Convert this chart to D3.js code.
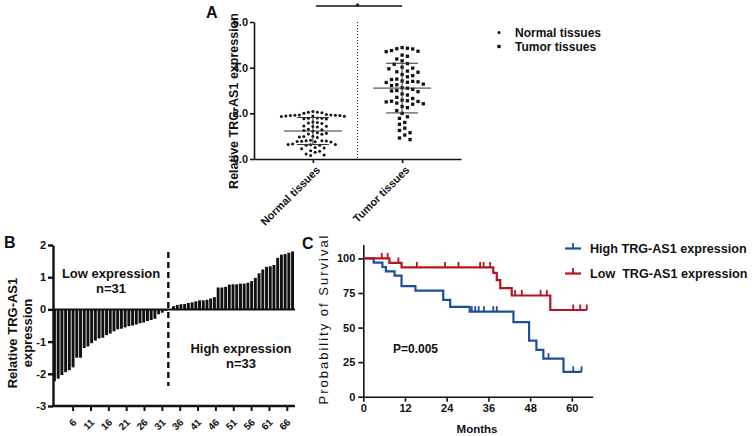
<!DOCTYPE html>
<html><head><meta charset="utf-8">
<script src="https://cdn.jsdelivr.net/npm/d3@7"></script>
<style>
body{margin:0;background:#fff}
svg{display:block}
text{font-family:"Liberation Sans",Arial,Helvetica,sans-serif;fill:#111}
</style>
</head><body>
<svg id="chart" width="753" height="436"></svg>
<script>
// ---------------- DATA ----------------
const groupsA = ["Normal tissues", "Tumor tissues"];
const normalValues = [2.08,2.05,2.05,2.03,2.0,
  1.95,1.93,1.93,1.92,1.92,1.9,1.9,1.88,1.88,1.87,1.86,
  1.8,1.78,1.78,1.76,1.75,
  1.62,1.6,1.58,1.55,
  1.45,1.43,1.42,1.4,
  1.3,1.28,1.25,1.22,
  1.15,1.13,1.1,1.08,
  1.0,0.98,0.96,0.94,
  0.82,0.8,0.8,0.79,0.78,0.77,0.76,0.75,
  0.66,0.64,0.63,0.62,0.6,0.6,
  0.5,0.48,0.45,
  0.36,0.34,0.3,
  0.22,0.18,0.15];
const tumorValues = [4.88,4.85,4.83,4.82,
  4.75,4.72,4.7,
  4.55,4.5,
  4.38,4.3,
  4.18,4.15,
  4.02,3.98,3.95,
  3.85,3.82,3.8,
  3.7,3.65,3.6,
  3.5,3.48,
  3.42,3.4,3.38,3.36,3.35,
  3.28,3.25,3.22,
  3.12,3.1,3.05,
  3.0,2.98,2.95,
  2.85,2.8,
  2.7,2.65,
  2.58,2.55,2.53,2.52,2.5,
  2.45,2.42,2.4,
  2.3,2.25,
  2.12,2.0,
  1.85,1.78,
  1.6,1.52,
  1.35,1.25,
  1.15,1.05,
  0.92,0.85];
const yTicksA = [0, 2, 4, 6];

const barLow = [-2.23,-2.15,-2.04,-1.95,-1.89,-1.8,-1.5,-1.5,-1.2,-1.15,-1.05,-0.97,-0.9,-0.88,-0.8,-0.75,
  -0.68,-0.62,-0.6,-0.56,-0.52,-0.5,-0.47,-0.43,-0.41,-0.36,-0.33,-0.29,-0.15,-0.1,-0.05];
const barHigh = [0.1,0.14,0.16,0.17,0.2,0.22,0.25,0.28,0.28,0.3,0.34,0.38,
  0.68,0.68,0.7,0.77,0.78,0.78,0.8,0.8,0.83,
  0.88,0.98,1.12,1.24,1.32,1.34,1.38,1.6,1.7,1.72,1.76,1.8];
const xTickLabelsB = [6,11,16,21,26,31,36,41,46,51,56,61,66];
const yTicksB = [2, 1, 0, -1, -2, -3];

const seriesC = ["High TRG-AS1 expression", "Low  TRG-AS1 expression"];
const highTimes = [0, 3, 5.5, 6.5, 9, 11, 15, 23, 25, 30.6, 43.2, 47.7, 49.8, 51.8, 57.6];
const highSurv  = [100, 96.9, 93.8, 90.6, 87.5, 80, 76.7, 70, 65, 61.5, 54, 40.5, 33.8, 27.5, 18];
const highCensor = [31.2, 32.2, 33.2, 34.7, 37.4, 38.4, 53.3, 60.4, 62.8];
const highEnd = 62.8;
const lowTimes = [0, 7.5, 11, 37.4, 38.4, 39.4, 42.7, 53.8];
const lowSurv  = [100, 96.8, 93.5, 89.6, 84.3, 78.5, 73.2, 62.7];
const lowCensor = [5.3, 7.0, 10.1, 15.4, 23.5, 27.4, 33.6, 34.6, 36.5, 43.7, 45.6, 51.0, 52.8, 60.4, 62.4, 64.3];
const lowEnd = 64.3;
const xTicksC = [0, 12, 24, 36, 48, 60];
const yTicksC = [0, 25, 50, 75, 100];

// ---------------- DRAW ----------------
const svg = d3.select("#chart");
const F = "'Liberation Sans',Arial,sans-serif";

function styleAxis(g, fs, sw) {
  g.selectAll("path.domain").attr("stroke", "#111").attr("stroke-width", sw);
  g.selectAll(".tick line").attr("stroke", "#111").attr("stroke-width", sw);
  g.selectAll(".tick text").attr("font-family", F).attr("font-size", fs).attr("font-weight", "bold").attr("fill", "#111");
}

// ===== Panel A =====
const axA = 254;
const yA = d3.scaleLinear().domain([0, 6]).range([159, 22]);
const xA = d3.scalePoint().domain(groupsA).range([axA, 461]).padding(0.66);

const gyA = svg.append("g").attr("transform", `translate(${axA},0)`)
  .call(d3.axisLeft(yA).tickValues(yTicksA).tickSize(4).tickSizeOuter(0).tickPadding(2));
styleAxis(gyA, 11, 1.6);

const gxA = svg.append("g").attr("transform", "translate(0,159)")
  .call(d3.axisBottom(xA).tickSize(4).tickSizeOuter(0));
styleAxis(gxA, 11, 1.6);
gxA.selectAll(".tick text").attr("text-anchor", "end")
  .attr("transform", "translate(2,6) rotate(-45)").attr("dy", "0.35em").attr("y", 4).attr("x", 0);

svg.append("text").attr("transform", "translate(238,101) rotate(-90)")
  .attr("text-anchor", "middle").attr("font-size", 12.5).attr("font-weight", "bold")
  .text("Relative TRG-AS1 expression");
svg.append("text").attr("x", 206).attr("y", 18).attr("font-size", 16).attr("font-weight", "bold").text("A");

// divider
const midA = (xA(groupsA[0]) + xA(groupsA[1])) / 2;
svg.append("line").attr("x1", midA).attr("x2", midA).attr("y1", yA(6)).attr("y2", yA(0))
  .attr("stroke", "#222").attr("stroke-width", 1).attr("stroke-dasharray", "1,2");

// significance bar
svg.append("line").attr("x1", xA(groupsA[0]) + 3).attr("x2", xA(groupsA[1])).attr("y1", 6).attr("y2", 6)
  .attr("stroke", "#111").attr("stroke-width", 1.3);
svg.append("text").attr("x", midA).attr("y", 9).attr("text-anchor", "middle").attr("font-size", 9).attr("font-weight", "bold").text("*");

function swarm(values, cx, diam) {
  const pts = values.map(v => ({ v, y: yA(v) })).sort((a, b) => b.v - a.v);
  const placed = [];
  const step = diam * 0.5;
  pts.forEach(p => {
    for (let k = 0; k < 200; k++) {
      const off = k === 0 ? 0 : (k % 2 ? 1 : -1) * Math.ceil(k / 2) * step;
      const x = cx + off;
      const hit = placed.some(q => (q.x - x) ** 2 + (q.y - p.y) ** 2 < diam * diam);
      if (!hit) { p.x = x; placed.push(p); break; }
    }
  });
  return placed;
}

const normPts = swarm(normalValues, xA(groupsA[0]), 4.5);
svg.append("g").selectAll("circle").data(normPts).join("circle")
  .attr("cx", d => d.x).attr("cy", d => d.y).attr("r", 1.5).attr("fill", "#111");
const sq = 3.3;
const tumPts = swarm(tumorValues, xA(groupsA[1]), 5.3);
svg.append("g").selectAll("rect").data(tumPts).join("rect")
  .attr("x", d => d.x - sq / 2).attr("y", d => d.y - sq / 2).attr("width", sq).attr("height", sq).attr("fill", "#111");

// mean & SD
[[normalValues, groupsA[0]], [tumorValues, groupsA[1]]].forEach(([vals, g]) => {
  const m = d3.mean(vals), s = d3.deviation(vals), cx = xA(g);
  const gg = svg.append("g").attr("stroke", "#333").attr("stroke-width", 1);
  gg.append("line").attr("x1", cx - 29).attr("x2", cx + 29).attr("y1", yA(m)).attr("y2", yA(m));
  gg.append("line").attr("x1", cx - 16).attr("x2", cx + 16).attr("y1", yA(m + s)).attr("y2", yA(m + s));
  gg.append("line").attr("x1", cx - 16).attr("x2", cx + 16).attr("y1", yA(m - s)).attr("y2", yA(m - s));
  gg.append("line").attr("x1", cx).attr("x2", cx).attr("y1", yA(m + s)).attr("y2", yA(m - s));
});

// legend A
svg.append("circle").attr("cx", 499).attr("cy", 32.5).attr("r", 1.5).attr("fill", "#111");
svg.append("rect").attr("x", 499 - sq / 2).attr("y", 46.5 - sq / 2).attr("width", sq).attr("height", sq).attr("fill", "#111");
svg.append("text").attr("x", 515).attr("y", 36.8).attr("font-size", 12).attr("font-weight", "bold").text(groupsA[0]);
svg.append("text").attr("x", 515).attr("y", 50.8).attr("font-size", 12).attr("font-weight", "bold").text(groupsA[1]);

// ===== Panel B =====
const yB = d3.scaleLinear().domain([-3, 2]).range([406, 245]);
const xTickB = d3.scaleLinear().domain([0.5, 68.3]).range([53, 295]);
const nSlots = barLow.length + 1 + barHigh.length;
const xB = d3.scaleBand().domain(d3.range(nSlots)).range([53, 294]).paddingInner(0.22);
const barData = barLow.map((v, i) => ({ slot: i, v }))
  .concat(barHigh.map((v, i) => ({ slot: barLow.length + 1 + i, v })));

svg.append("g").selectAll("rect").data(barData).join("rect")
  .attr("x", d => xB(d.slot)).attr("width", xB.bandwidth())
  .attr("y", d => Math.min(yB(d.v), yB(0))).attr("height", d => Math.abs(yB(d.v) - yB(0)))
  .attr("fill", "#111");

svg.append("line").attr("x1", 53).attr("x2", 295).attr("y1", yB(0)).attr("y2", yB(0))
  .attr("stroke", "#111").attr("stroke-width", 2);

const gyB = svg.append("g").attr("transform", "translate(53,0)")
  .call(d3.axisLeft(yB).tickValues(yTicksB).tickSize(5).tickSizeOuter(0).tickPadding(2).tickFormat(d3.format("d")));
styleAxis(gyB, 11, 2.4);
gyB.selectAll(".tick text").text(d => d < 0 ? "-" + Math.abs(d) : d);

const gxB = svg.append("g").attr("transform", "translate(0,406)")
  .call(d3.axisBottom(xTickB).tickValues(xTickLabelsB).tickSize(5).tickSizeOuter(0));
gxB.select("path.domain").remove();
svg.append("line").attr("x1", 52).attr("x2", 295).attr("y1", 406).attr("y2", 406).attr("stroke", "#111").attr("stroke-width", 2.4);
styleAxis(gxB, 10, 2);
gxB.selectAll(".tick text").attr("text-anchor", "end").attr("y", 0).attr("dy", 0)
  .attr("transform", "translate(4,17) rotate(-45)");

const dashX = xB(barLow.length);
svg.append("line").attr("x1", dashX).attr("x2", dashX).attr("y1", yB(1.78)).attr("y2", yB(-2.38))
  .attr("stroke", "#111").attr("stroke-width", 2.4).attr("stroke-dasharray", "6,4");

svg.append("text").attr("x", 111).attr("y", 278).attr("text-anchor", "middle").attr("font-size", 13).attr("font-weight", "bold").text("Low expression");
svg.append("text").attr("x", 111).attr("y", 293).attr("text-anchor", "middle").attr("font-size", 13).attr("font-weight", "bold").text("n=" + barLow.length);
svg.append("text").attr("x", 241).attr("y", 353).attr("text-anchor", "middle").attr("font-size", 13).attr("font-weight", "bold").text("High expression");
svg.append("text").attr("x", 241).attr("y", 368).attr("text-anchor", "middle").attr("font-size", 13).attr("font-weight", "bold").text("n=" + barHigh.length);

svg.append("text").attr("transform", "translate(17,333) rotate(-90)").attr("text-anchor", "middle")
  .attr("font-size", 13).attr("font-weight", "bold").text("Relative TRG-AS1");
svg.append("text").attr("transform", "translate(32,333) rotate(-90)").attr("text-anchor", "middle")
  .attr("font-size", 13).attr("font-weight", "bold").text("expression");
svg.append("text").attr("x", 4).attr("y", 248).attr("font-size", 16).attr("font-weight", "bold").text("B");

// ===== Panel C =====
const xC = d3.scaleLinear().domain([0, 66]).range([363.3, 592.7]);
const yC = d3.scaleLinear().domain([0, 110]).range([396.7, 244.6]);

const gxC = svg.append("g").attr("transform", "translate(0,396.7)")
  .call(d3.axisBottom(xC).tickValues(xTicksC).tickSize(5).tickSizeOuter(0).tickPadding(3));
styleAxis(gxC, 11, 1.6);
const gyC = svg.append("g").attr("transform", "translate(363.3,0)")
  .call(d3.axisLeft(yC).tickValues(yTicksC).tickSize(5).tickSizeOuter(0).tickPadding(3));
styleAxis(gyC, 11, 1.6);

svg.append("text").attr("x", 477).attr("y", 433).attr("text-anchor", "middle").attr("font-size", 11.5).attr("font-weight", "bold").text("Months");
svg.append("text").attr("transform", "translate(328,319) rotate(-90)").attr("text-anchor", "middle")
  .attr("font-size", 13).attr("letter-spacing", "2px").text("Probability of Survival");
svg.append("text").attr("x", 302).attr("y", 249).attr("font-size", 16).attr("font-weight", "bold").text("C");
svg.append("text").attr("x", 393).attr("y", 353).attr("font-size", 12).attr("font-weight", "bold").text("P=0.005");

const colHigh = "#1c4f98", colLow = "#b3161e";
function kmPath(times, surv, end) {
  let d = `M${xC(times[0])},${yC(surv[0])}`;
  for (let i = 1; i < times.length; i++) d += `H${xC(times[i])}V${yC(surv[i])}`;
  d += `H${xC(end)}`;
  return d;
}
function survAt(times, surv, t) {
  let s = surv[0];
  for (let i = 0; i < times.length; i++) if (times[i] <= t) s = surv[i];
  return s;
}
[[highTimes, highSurv, highCensor, highEnd, colHigh], [lowTimes, lowSurv, lowCensor, lowEnd, colLow]]
  .forEach(([t, s, c, e, col]) => {
    svg.append("path").attr("d", kmPath(t, s, e)).attr("fill", "none").attr("stroke", col).attr("stroke-width", 2.2);
    svg.append("g").selectAll("line").data(c).join("line")
      .attr("x1", d => xC(d)).attr("x2", d => xC(d))
      .attr("y1", d => yC(survAt(t, s, d))).attr("y2", d => yC(survAt(t, s, d)) - 5.5)
      .attr("stroke", col).attr("stroke-width", 1.8);
  });

// legend C
[[seriesC[0], colHigh, 248.5], [seriesC[1], colLow, 273.5]].forEach(([lab, col, y]) => {
  svg.append("line").attr("x1", 565).attr("x2", 581).attr("y1", y).attr("y2", y).attr("stroke", col).attr("stroke-width", 2.2);
  svg.append("line").attr("x1", 573).attr("x2", 573).attr("y1", y).attr("y2", y - 5.5).attr("stroke", col).attr("stroke-width", 1.8);
  svg.append("text").attr("x", 590).attr("y", y + 4.6).attr("font-size", 12.6).attr("font-weight", "bold")
    .attr("xml:space", "preserve").style("white-space", "pre").attr("fill", "#222").text(lab);
});
</script>
</body></html>
